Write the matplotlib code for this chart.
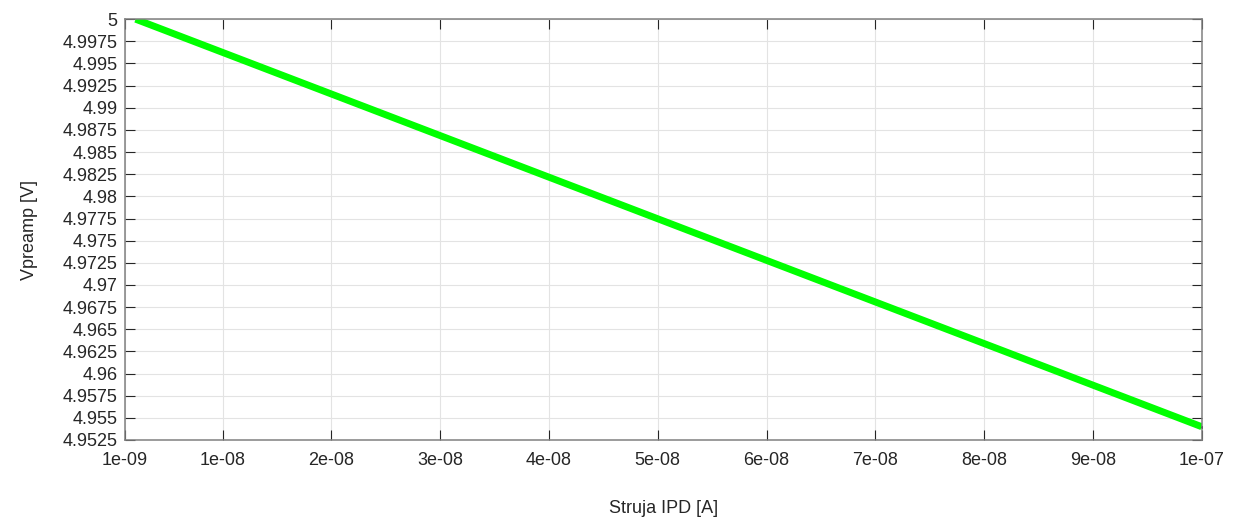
import numpy as np
import matplotlib
matplotlib.use("Agg")
import matplotlib.pyplot as plt

# current sweep and preamp output (endpoints)
ipd = [2e-09, 1e-07]
vpreamp = [5.0, 4.954]

xticks = [1e-09, 1e-08, 2e-08, 3e-08, 4e-08, 5e-08, 6e-08, 7e-08, 8e-08, 9e-08, 1e-07]
xticklabels = ["1e-09", "1e-08", "2e-08", "3e-08", "4e-08", "5e-08",
               "6e-08", "7e-08", "8e-08", "9e-08", "1e-07"]
yticks = [4.9525, 4.955, 4.9575, 4.96, 4.9625, 4.965, 4.9675, 4.97, 4.9725,
          4.975, 4.9775, 4.98, 4.9825, 4.985, 4.9875, 4.99, 4.9925, 4.995,
          4.9975, 5.0]
yticklabels = ["4.9525", "4.955", "4.9575", "4.96", "4.9625", "4.965", "4.9675",
               "4.97", "4.9725", "4.975", "4.9775", "4.98", "4.9825", "4.985",
               "4.9875", "4.99", "4.9925", "4.995", "4.9975", "5"]

plt.rcParams["font.family"] = ["Liberation Sans", "DejaVu Sans"]
plt.rcParams["font.size"] = 13

fig = plt.figure(figsize=(12.35, 5.18), dpi=100)
ax = fig.add_axes([0.101, 0.1506, 0.872, 0.8124])

ax.plot(ipd, vpreamp, color="#00ff00", linewidth=5, solid_capstyle="butt")
ax.plot(ipd[-1], vpreamp[-1], "k.", markersize=2)

ax.set_xlim(1e-09, 1e-07)
ax.set_ylim(4.9525, 5.0)
ax.set_xticks(xticks)
ax.set_xticklabels(xticklabels)
ax.set_yticks(yticks)
ax.set_yticklabels(yticklabels)

ax.grid(True, color="#e3e3e3", linewidth=0.8)
ax.set_axisbelow(True)
ax.tick_params(direction="in", top=True, right=True, length=7, width=0.8,
               colors="#262626", labelcolor="#262626")
ax.tick_params(axis="x", pad=9)
ax.tick_params(axis="y", pad=5)
for s in ax.spines.values():
    s.set_color("#808080")
    s.set_linewidth(1.1)

ax.set_xlabel("Struja IPD [A]", labelpad=22, color="#262626")
ax.set_ylabel("Vpreamp [V]", labelpad=18, color="#262626")

fig.savefig("out.png", dpi=100)
